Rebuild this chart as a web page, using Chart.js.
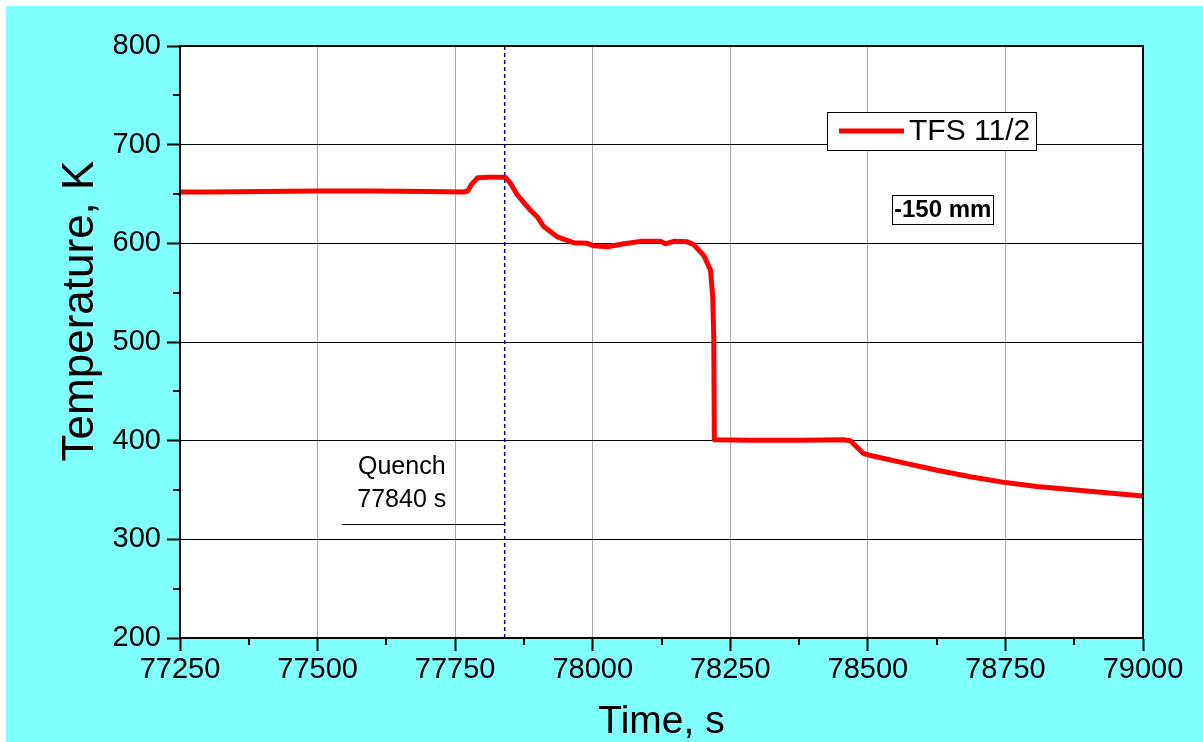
<!DOCTYPE html>
<html>
<head>
<meta charset="utf-8">
<script src="https://cdn.jsdelivr.net/npm/chart.js@4/dist/chart.umd.min.js"></script>
<style>
  html, body { margin: 0; padding: 0; background: #ffffff; }
  #wrap { width: 1203px; height: 742px; }
</style>
</head>
<body>
<div id="wrap"><canvas id="c" width="1203" height="742"></canvas></div>
<script>
// Thermocouple TFS 11/2 record around the quench
const timeS = [77250, 77300, 77400, 77500, 77600, 77700, 77765, 77773, 77776, 77780, 77791, 77810, 77841,
  77851, 77863, 77887, 77899, 77911, 77936, 77966, 77990, 78002, 78026, 78057, 78087, 78123, 78132,
  78147, 78172, 78184, 78202, 78214, 78218, 78220, 78221, 78287, 78377, 78456, 78468, 78492, 78501,
  78565, 78626, 78686, 78750, 78807, 78898, 79000];
const tempK = [652, 652, 652.5, 653, 653, 652.5, 652, 653, 656, 660, 666.5, 667, 667,
  660.5, 649, 633.5, 627, 617, 606.5, 600.5, 600, 597.5, 596.5, 599.5, 602, 602, 599.5,
  602, 601.5, 598.5, 587.5, 573, 546, 505, 401, 400.5, 400.5, 401, 400, 387, 385.5,
  377.5, 370, 363.5, 357.5, 353.5, 349, 344];

const seriesLabel = 'TFS 11/2';
const positionLabel = '-150 mm';
const xTicks = [77250, 77500, 77750, 78000, 78250, 78500, 78750, 79000];
const xMinorTicks = [77375, 77625, 77875, 78125, 78375, 78625, 78875];
const yTicks = [200, 300, 400, 500, 600, 700, 800];
const yMinorTicks = [250, 350, 450, 550, 650, 750];

// Quench marker and its caption
const quenchTime = 77840;
const quenchLeaderStart = 77544;
const quenchLeaderTemp = 315;
const quenchText = ['Quench', '77840 s'];
const quenchTextTime = 77653;
const quenchTextTemps = [373, 340];
const positionLabelAt = { x: 78636, y: 634 };

const FONT = "'Liberation Sans', Arial, sans-serif";

const backgroundPlugin = {
  id: 'backgroundPlugin',
  beforeDraw(chart) {
    const { ctx, chartArea: a } = chart;
    ctx.save();
    ctx.fillStyle = '#ffffff';
    ctx.fillRect(0, 0, chart.width, chart.height);
    ctx.fillStyle = '#80ffff';
    ctx.fillRect(6, 6, chart.width - 6, chart.height - 6);
    ctx.fillStyle = '#ffffff';
    ctx.fillRect(a.left, a.top, a.right - a.left, a.bottom - a.top);
    ctx.restore();
  }
};

const framePlugin = {
  id: 'framePlugin',
  afterDatasetsDraw(chart) {
    const { ctx, chartArea: a, scales } = chart;
    ctx.save();
    ctx.strokeStyle = '#000000';
    ctx.lineWidth = 2;
    ctx.strokeRect(a.left, a.top, a.right - a.left, a.bottom - a.top);

    // minor ticks, outward
    ctx.lineWidth = 2;
    ctx.beginPath();
    yMinorTicks.forEach(v => {
      const y = Math.round(scales.y.getPixelForValue(v));
      ctx.moveTo(a.left - 7, y); ctx.lineTo(a.left, y);
    });
    xMinorTicks.forEach(v => {
      const x = Math.round(scales.x.getPixelForValue(v));
      ctx.moveTo(x, a.bottom); ctx.lineTo(x, a.bottom + 7);
    });
    ctx.stroke();

    // quench caption
    ctx.fillStyle = '#000000';
    ctx.font = '25px ' + FONT;
    ctx.textAlign = 'center';
    ctx.textBaseline = 'middle';
    quenchText.forEach((t, i) => {
      ctx.fillText(t, scales.x.getPixelForValue(quenchTextTime), scales.y.getPixelForValue(quenchTextTemps[i]));
    });

    // position label with frame
    ctx.font = 'bold 24px ' + FONT;
    const px = scales.x.getPixelForValue(positionLabelAt.x);
    const py = scales.y.getPixelForValue(positionLabelAt.y);
    const w = 101;
    const h = 29;
    ctx.fillStyle = '#ffffff';
    ctx.fillRect(px - w / 2, py - h / 2, w, h);
    ctx.strokeStyle = '#000000';
    ctx.lineWidth = 1;
    ctx.strokeRect(Math.round(px - w / 2) + 0.5, Math.round(py - h / 2) + 0.5, w, h);
    ctx.fillStyle = '#000000';
    ctx.fillText(positionLabel, px, py + 1);

    // legend
    const ds = chart.data.datasets[0];
    const lx = a.right - 316, ly = a.top + 66, lw = 209, lh = 38;
    ctx.fillStyle = '#ffffff';
    ctx.fillRect(lx, ly, lw, lh);
    ctx.strokeStyle = '#000000';
    ctx.lineWidth = 1;
    ctx.strokeRect(lx + 0.5, ly + 0.5, lw, lh);
    ctx.strokeStyle = ds.borderColor;
    ctx.lineWidth = 5;
    ctx.beginPath();
    ctx.moveTo(lx + 12, ly + 19); ctx.lineTo(lx + 77, ly + 19);
    ctx.stroke();
    ctx.fillStyle = '#000000';
    ctx.font = '30px ' + FONT;
    ctx.textAlign = 'left';
    ctx.fillText(ds.label, lx + 82, ly + 20);

    // y axis title
    ctx.font = '44px ' + FONT;
    ctx.textAlign = 'center';
    ctx.translate(81, 311);
    ctx.rotate(-Math.PI / 2);
    ctx.fillText('Temperature, K', 0, 0);
    ctx.restore();
  }
};

new Chart(document.getElementById('c'), {
  type: 'scatter',
  data: {
    datasets: [
      {
        label: seriesLabel,
        data: timeS.map((t, i) => ({ x: t, y: tempK[i] })),
        showLine: true,
        borderColor: '#ff0000',
        borderWidth: 5,
        borderJoinStyle: 'round',
        borderCapStyle: 'round',
        pointRadius: 0,
        tension: 0,
        order: 1
      },
      {
        label: 'quench',
        data: [{ x: quenchTime, y: 200 }, { x: quenchTime, y: 800 }],
        showLine: true,
        borderColor: '#0000a0',
        borderWidth: 1.5,
        borderDash: [4, 3],
        pointRadius: 0,
        order: 2
      },
      {
        label: 'leader',
        data: [{ x: quenchLeaderStart, y: quenchLeaderTemp }, { x: quenchTime, y: quenchLeaderTemp }],
        showLine: true,
        borderColor: '#000000',
        borderWidth: 1,
        pointRadius: 0,
        order: 3
      }
    ]
  },
  options: {
    responsive: false,
    animation: false,
    devicePixelRatio: 1,
    layout: { padding: { left: 0, top: 46, right: 60, bottom: 0 } },
    plugins: { legend: { display: false }, tooltip: { enabled: false } },
    scales: {
      x: {
        type: 'linear',
        min: 77250,
        max: 79000,
        afterBuildTicks: s => { s.ticks = xTicks.map(v => ({ value: v })); },
        afterFit: s => { s.height = 104; },
        ticks: {
          color: '#000000',
          font: { family: FONT, size: 29 },
          padding: 2,
          maxRotation: 0,
          autoSkip: false,
          callback: v => String(v)
        },
        grid: { color: '#a8a8a8', lineWidth: 1, tickColor: '#000000', tickLength: 13, tickWidth: 2 },
        border: { color: '#000000', width: 2 },
        title: {
          display: true,
          text: 'Time, s',
          color: '#000000',
          font: { family: FONT, size: 39, lineHeight: 1 },
          padding: { top: 0, bottom: 0 }
        }
      },
      y: {
        type: 'linear',
        min: 200,
        max: 800,
        afterBuildTicks: s => { s.ticks = yTicks.map(v => ({ value: v })); },
        afterFit: s => { s.width = 180; },
        ticks: {
          color: '#000000',
          font: { family: FONT, size: 29 },
          padding: 6,
          callback: v => String(v)
        },
        grid: { color: '#000000', lineWidth: 1, tickColor: '#000000', tickLength: 13, tickWidth: 2 },
        border: { color: '#000000', width: 2 }
      }
    }
  },
  plugins: [backgroundPlugin, framePlugin]
});
</script>
</body>
</html>
